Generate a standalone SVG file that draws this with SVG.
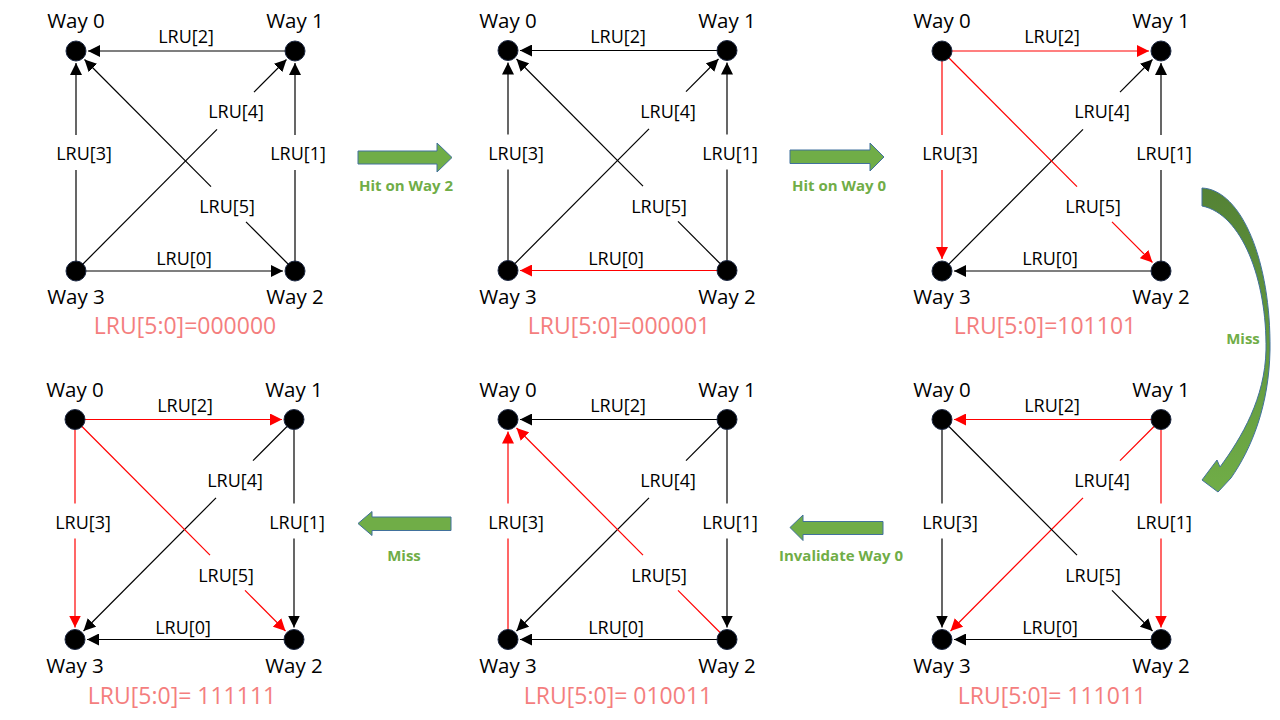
<svg xmlns="http://www.w3.org/2000/svg" width="1280" height="720" viewBox="0 0 1280 720">
<style>
text{font-family:"Open Sans","Liberation Sans",sans-serif;text-anchor:middle}
.way{font-size:20.5px;fill:#000}
.lbl{font-size:18px;fill:#000}
.st{font-size:23px;fill:#F47E7E}
.gt{font-size:15px;font-weight:bold;fill:#70AD47}
.node circle{fill:#000;stroke:#1F2A44;stroke-width:1}
.e{fill:none;stroke-width:1.2}
.k{stroke:#000}
.r{stroke:#F00}
.k.a{marker-end:url(#ahk)}
.r.a{marker-end:url(#ahr)}
.blk{fill:#70AD47;stroke:#41719C;stroke-width:1}
</style>
<defs>
<marker id="ahk" markerUnits="userSpaceOnUse" markerWidth="12" markerHeight="12" refX="12" refY="6" orient="auto" viewBox="0 0 12 12"><path d="M0,0L12,6L0,12z" fill="#000"/></marker>
<marker id="ahr" markerUnits="userSpaceOnUse" markerWidth="12" markerHeight="12" refX="12" refY="6" orient="auto" viewBox="0 0 12 12"><path d="M0,0L12,6L0,12z" fill="#F00"/></marker>
<linearGradient id="cg" x1="0" y1="0" x2="0" y2="1"><stop offset="0" stop-color="#548235"/><stop offset="1" stop-color="#70AD47"/></linearGradient>
</defs>
<rect width="1280" height="720" fill="#fff"/>

<!-- Panel 1: 000000 -->
<g id="panel1" transform="translate(76,51)">
<g id="p1-connectors">
<path class="e k a" d="M219,0L12,0"/>
<path class="e k" d="M0,220L0,119"/><path class="e k a" d="M0,84L0,12"/>
<path class="e k" d="M0,220L141,78.4"/><path class="e k a" d="M178,41.2L210.5,8.5"/>
<path class="e k" d="M219,220L219,119"/><path class="e k a" d="M219,84L219,12"/>
<path class="e k" d="M219,220L170,170.8"/><path class="e k a" d="M135,135.6L8.5,8.5"/>
<path class="e k a" d="M0,220L207,220"/>
<text class="lbl" x="110" y="-8">LRU[2]</text>
<text class="lbl" x="8" y="109">LRU[3]</text>
<text class="lbl" x="160" y="67">LRU[4]</text>
<text class="lbl" x="222" y="109">LRU[1]</text>
<text class="lbl" x="151" y="162">LRU[5]</text>
<text class="lbl" x="108" y="214">LRU[0]</text>
</g>
<g id="p1-way0" class="node"><circle cx="0" cy="0" r="10"/><text class="way" x="0" y="-23">Way 0</text></g>
<g id="p1-way1" class="node"><circle cx="219" cy="0" r="10"/><text class="way" x="219" y="-23">Way 1</text></g>
<g id="p1-way2" class="node"><circle cx="219" cy="220" r="10"/><text class="way" x="219" y="253">Way 2</text></g>
<g id="p1-way3" class="node"><circle cx="0" cy="220" r="10"/><text class="way" x="0" y="253">Way 3</text></g>
<text class="st" x="109" y="283">LRU[5:0]=000000</text>
</g>

<!-- Panel 2: 000001 -->
<g id="panel2" transform="translate(508,50.5)">
<g id="p2-connectors">
<path class="e k a" d="M219,0L12,0"/>
<path class="e k" d="M0,220L0,119"/><path class="e k a" d="M0,84L0,12"/>
<path class="e k" d="M0,220L141,78.4"/><path class="e k a" d="M178,41.2L210.5,8.5"/>
<path class="e k" d="M219,220L219,119"/><path class="e k a" d="M219,84L219,12"/>
<path class="e k" d="M219,220L170,170.8"/><path class="e k a" d="M135,135.6L8.5,8.5"/>
<path class="e r a" d="M219,220L12,220"/>
<text class="lbl" x="110" y="-8">LRU[2]</text>
<text class="lbl" x="8" y="109">LRU[3]</text>
<text class="lbl" x="160" y="67">LRU[4]</text>
<text class="lbl" x="222" y="109">LRU[1]</text>
<text class="lbl" x="151" y="162">LRU[5]</text>
<text class="lbl" x="108" y="214">LRU[0]</text>
</g>
<g id="p2-way0" class="node"><circle cx="0" cy="0" r="10"/><text class="way" x="0" y="-23">Way 0</text></g>
<g id="p2-way1" class="node"><circle cx="219" cy="0" r="10"/><text class="way" x="219" y="-23">Way 1</text></g>
<g id="p2-way2" class="node"><circle cx="219" cy="220" r="10"/><text class="way" x="219" y="253">Way 2</text></g>
<g id="p2-way3" class="node"><circle cx="0" cy="220" r="10"/><text class="way" x="0" y="253">Way 3</text></g>
<text class="st" x="111" y="283">LRU[5:0]=000001</text>
</g>

<!-- Panel 3: 101101 -->
<g id="panel3" transform="translate(942,51)">
<g id="p3-connectors">
<path class="e r a" d="M0,0L207,0"/>
<path class="e r" d="M0,0L0,84"/><path class="e r a" d="M0,119L0,208"/>
<path class="e k" d="M0,220L141,78.4"/><path class="e k a" d="M178,41.2L210.5,8.5"/>
<path class="e k" d="M219,220L219,119"/><path class="e k a" d="M219,84L219,12"/>
<path class="e r" d="M0,0L135,135.6"/><path class="e r a" d="M170,170.8L210.5,211.5"/>
<path class="e k a" d="M219,220L12,220"/>
<text class="lbl" x="110" y="-8">LRU[2]</text>
<text class="lbl" x="8" y="109">LRU[3]</text>
<text class="lbl" x="160" y="67">LRU[4]</text>
<text class="lbl" x="222" y="109">LRU[1]</text>
<text class="lbl" x="151" y="162">LRU[5]</text>
<text class="lbl" x="108" y="214">LRU[0]</text>
</g>
<g id="p3-way0" class="node"><circle cx="0" cy="0" r="10"/><text class="way" x="0" y="-23">Way 0</text></g>
<g id="p3-way1" class="node"><circle cx="219" cy="0" r="10"/><text class="way" x="219" y="-23">Way 1</text></g>
<g id="p3-way2" class="node"><circle cx="219" cy="220" r="10"/><text class="way" x="219" y="253">Way 2</text></g>
<g id="p3-way3" class="node"><circle cx="0" cy="220" r="10"/><text class="way" x="0" y="253">Way 3</text></g>
<text class="st" x="103" y="283">LRU[5:0]=101101</text>
</g>

<!-- Panel 4: 111111 -->
<g id="panel4" transform="translate(75,419.5)">
<g id="p4-connectors">
<path class="e r a" d="M0,0L207,0"/>
<path class="e r" d="M0,0L0,84"/><path class="e r a" d="M0,119L0,208"/>
<path class="e k" d="M219,0L178,41.2"/><path class="e k a" d="M141,78.4L8.5,211.5"/>
<path class="e k" d="M219,0L219,84"/><path class="e k a" d="M219,119L219,208"/>
<path class="e r" d="M0,0L135,135.6"/><path class="e r a" d="M170,170.8L210.5,211.5"/>
<path class="e k a" d="M219,220L12,220"/>
<text class="lbl" x="110" y="-8">LRU[2]</text>
<text class="lbl" x="8" y="109">LRU[3]</text>
<text class="lbl" x="160" y="67">LRU[4]</text>
<text class="lbl" x="222" y="109">LRU[1]</text>
<text class="lbl" x="151" y="162">LRU[5]</text>
<text class="lbl" x="108" y="214">LRU[0]</text>
</g>
<g id="p4-way0" class="node"><circle cx="0" cy="0" r="10"/><text class="way" x="0" y="-23">Way 0</text></g>
<g id="p4-way1" class="node"><circle cx="219" cy="0" r="10"/><text class="way" x="219" y="-23">Way 1</text></g>
<g id="p4-way2" class="node"><circle cx="219" cy="220" r="10"/><text class="way" x="219" y="253">Way 2</text></g>
<g id="p4-way3" class="node"><circle cx="0" cy="220" r="10"/><text class="way" x="0" y="253">Way 3</text></g>
<text class="st" x="107" y="284">LRU[5:0]= 111111</text>
</g>

<!-- Panel 5: 010011 -->
<g id="panel5" transform="translate(508,419.5)">
<g id="p5-connectors">
<path class="e k a" d="M219,0L12,0"/>
<path class="e r" d="M0,220L0,119"/><path class="e r a" d="M0,84L0,12"/>
<path class="e k" d="M219,0L178,41.2"/><path class="e k a" d="M141,78.4L8.5,211.5"/>
<path class="e k" d="M219,0L219,84"/><path class="e k a" d="M219,119L219,208"/>
<path class="e r" d="M219,220L170,170.8"/><path class="e r a" d="M135,135.6L8.5,8.5"/>
<path class="e k a" d="M219,220L12,220"/>
<text class="lbl" x="110" y="-8">LRU[2]</text>
<text class="lbl" x="8" y="109">LRU[3]</text>
<text class="lbl" x="160" y="67">LRU[4]</text>
<text class="lbl" x="222" y="109">LRU[1]</text>
<text class="lbl" x="151" y="162">LRU[5]</text>
<text class="lbl" x="108" y="214">LRU[0]</text>
</g>
<g id="p5-way0" class="node"><circle cx="0" cy="0" r="10"/><text class="way" x="0" y="-23">Way 0</text></g>
<g id="p5-way1" class="node"><circle cx="219" cy="0" r="10"/><text class="way" x="219" y="-23">Way 1</text></g>
<g id="p5-way2" class="node"><circle cx="219" cy="220" r="10"/><text class="way" x="219" y="253">Way 2</text></g>
<g id="p5-way3" class="node"><circle cx="0" cy="220" r="10"/><text class="way" x="0" y="253">Way 3</text></g>
<text class="st" x="110" y="284">LRU[5:0]= 010011</text>
</g>

<!-- Panel 6: 111011 -->
<g id="panel6" transform="translate(942,419.5)">
<g id="p6-connectors">
<path class="e r a" d="M219,0L12,0"/>
<path class="e k" d="M0,0L0,84"/><path class="e k a" d="M0,119L0,208"/>
<path class="e r" d="M219,0L178,41.2"/><path class="e r a" d="M141,78.4L8.5,211.5"/>
<path class="e r" d="M219,0L219,84"/><path class="e r a" d="M219,119L219,208"/>
<path class="e k" d="M0,0L135,135.6"/><path class="e k a" d="M170,170.8L210.5,211.5"/>
<path class="e k a" d="M219,220L12,220"/>
<text class="lbl" x="110" y="-8">LRU[2]</text>
<text class="lbl" x="8" y="109">LRU[3]</text>
<text class="lbl" x="160" y="67">LRU[4]</text>
<text class="lbl" x="222" y="109">LRU[1]</text>
<text class="lbl" x="151" y="162">LRU[5]</text>
<text class="lbl" x="108" y="214">LRU[0]</text>
</g>
<g id="p6-way0" class="node"><circle cx="0" cy="0" r="10"/><text class="way" x="0" y="-23">Way 0</text></g>
<g id="p6-way1" class="node"><circle cx="219" cy="0" r="10"/><text class="way" x="219" y="-23">Way 1</text></g>
<g id="p6-way2" class="node"><circle cx="219" cy="220" r="10"/><text class="way" x="219" y="253">Way 2</text></g>
<g id="p6-way3" class="node"><circle cx="0" cy="220" r="10"/><text class="way" x="0" y="253">Way 3</text></g>
<text class="st" x="110" y="284">LRU[5:0]= 111011</text>
</g>

<!-- Transition arrows -->
<g id="transitions">
<g id="t1"><path class="blk" d="M358,151L437,151L437,143L452,157.5L437,172L437,164L358,164Z"/><text class="gt" x="406" y="191">Hit on Way 2</text></g>
<g id="t2"><path class="blk" d="M790,150L870,150L870,143L884,157L870,171L870,163.5L790,163.5Z"/><text class="gt" x="839" y="191">Hit on Way 0</text></g>
<g id="t3"><path d="M1202,188C1242,190 1271,262 1270,350C1269,405 1252,448 1231,478L1218,492L1202,480L1217,460L1220,467C1242,437 1265,398 1266,350C1267,280 1242,214 1202,206Z" fill="url(#cg)" stroke="#41719C" stroke-width="1"/><text class="gt" x="1243" y="344">Miss</text></g>
<g id="t4"><path class="blk" d="M883,521.5L803,521.5L803,515L790,527.5L803,540.5L803,534.5L883,534.5Z"/><text class="gt" x="841" y="561">Invalidate Way 0</text></g>
<g id="t5"><path class="blk" d="M451,517L372,517L372,511.5L358,523.5L372,535.5L372,530.5L451,530.5Z"/><text class="gt" x="404" y="561">Miss</text></g>
</g>
</svg>
